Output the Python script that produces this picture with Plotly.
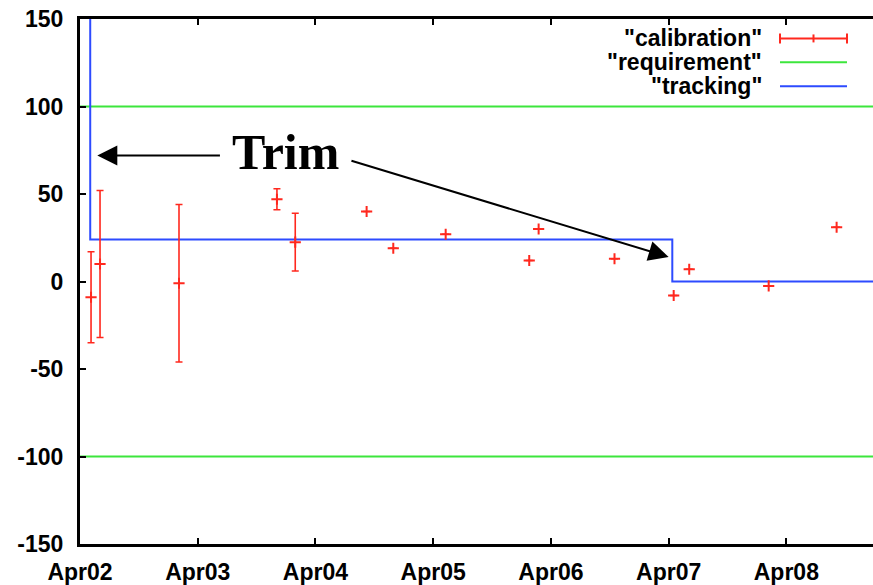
import plotly.graph_objects as go

# ---- data -------------------------------------------------------------
calib_time = [
    "2008-04-02 02:15", "2008-04-02 04:05", "2008-04-02 20:11",
    "2008-04-03 16:09", "2008-04-03 19:53", "2008-04-04 10:26",
    "2008-04-04 15:52", "2008-04-05 02:33", "2008-04-05 19:35",
    "2008-04-05 21:30", "2008-04-06 12:58", "2008-04-07 01:02",
    "2008-04-07 04:12", "2008-04-07 20:24", "2008-04-08 10:15",
]
calib_value = [-9, 10, -1, 47, 22.5, 40, 19, 27, 12, 30, 13, -8, 7, -2.5, 31]
calib_error = [26, 42, 45, 6, 16.5, 0, 0, 0, 0, 0, 0, 0, 0, 0, 0]

track_time = ["2008-04-02 02:05", "2008-04-02 02:05", "2008-04-07 00:45", "2008-04-08 17:40"]
track_value = [260, 24, 0, 0]

req_level = [100, -100]

x_start, x_end = "2008-04-02 00:00", "2008-04-08 17:40"
y_ticks = [-150, -100, -50, 0, 50, 100, 150]
legend_names = ['"calibration"', '"requirement"', '"tracking"']

RED = "rgb(255,40,30)"
GREEN = "rgb(60,230,60)"
BLUE = "rgb(45,75,255)"

W, H = 873, 585
ML, MR, MT, MB = 80, 0, 19, 39
PW, PH = W - ML - MR, H - MT - MB


def px(xp):
    return (xp - ML) / PW


def py(yp):
    return (H - MB - yp) / PH


fig = go.Figure()

# requirement band edges
req_x, req_y = [], []
for lvl in req_level:
    req_x += [x_start, x_end, None]
    req_y += [lvl, lvl, None]
fig.add_trace(go.Scatter(x=req_x, y=req_y, mode="lines",
                         line=dict(color=GREEN, width=2), name=legend_names[1],
                         showlegend=False))

# tracking step
fig.add_trace(go.Scatter(x=track_time, y=track_value, mode="lines",
                         line=dict(color=BLUE, width=2, shape="hv"),
                         name=legend_names[2], showlegend=False, cliponaxis=True))

# calibration points with error bars
fig.add_trace(go.Scatter(
    x=calib_time, y=calib_value, mode="markers", name=legend_names[0],
    marker=dict(symbol="cross-thin", size=8, line=dict(color=RED, width=2), color=RED),
    error_y=dict(type="data", array=calib_error, visible=True,
                 color=RED, thickness=1.6, width=3.5),
    showlegend=False, cliponaxis=False))

font_tick = dict(family="Liberation Sans", size=23, color="black", weight="bold")

fig.update_layout(
    width=W, height=H,
    margin=dict(l=ML, r=MR, t=MT, b=MB),
    paper_bgcolor="white", plot_bgcolor="white",
    showlegend=False,
    xaxis=dict(range=[x_start, x_end], type="date",
               tick0="2008-04-02", dtick=86400000, tickformat="%b%d",
               ticks="inside", ticklen=6, tickwidth=2, tickcolor="black",
               showline=True, linecolor="black", linewidth=3, mirror="ticks",
               showgrid=False, zeroline=False, tickfont=font_tick,
               ticklabelstandoff=5),
    yaxis=dict(range=[-150, 150], tickvals=y_ticks,
               ticktext=[str(v) for v in y_ticks],
               ticks="inside", ticklen=6, tickwidth=2, tickcolor="black",
               showline=True, linecolor="black", linewidth=3, mirror=False,
               showgrid=False, zeroline=False, tickfont=font_tick,
               ticklabelstandoff=9),
)

# "Trim" label with its two arrows
fig.add_annotation(x="2008-04-03 17:58", y=74, text="Trim", showarrow=False,
                   font=dict(family="Liberation Serif", size=50, color="black",
                             weight="bold"),
                   xanchor="center", yanchor="middle")
fig.add_annotation(x="2008-04-02 03:32", y=72, ax="2008-04-03 04:50", ay=72,
                   axref="x", ayref="y", text="", showarrow=True,
                   arrowhead=2, arrowsize=2, arrowwidth=2, arrowcolor="black",
                   standoff=0)
fig.add_annotation(x="2008-04-07 00:00", y=14, ax="2008-04-04 07:02", ay=69.3,
                   axref="x", ayref="y", text="", showarrow=True,
                   arrowhead=2, arrowsize=2, arrowwidth=2, arrowcolor="black",
                   standoff=0)

# key, right-aligned text with sample on the right
rows_y = [38.5, 62.5, 86.5]
text_right = 764
s0, s1 = 780, 847
legend_font = dict(family="Liberation Sans", size=23, color="black", weight="bold")
for name, ry in zip(legend_names, rows_y):
    fig.add_annotation(xref="paper", yref="paper", x=px(text_right), y=py(ry),
                       text=name, showarrow=False, xanchor="right",
                       yanchor="middle", font=legend_font)

line_colors = [RED, GREEN, BLUE]
for col, ry in zip(line_colors, rows_y):
    fig.add_shape(type="line", xref="paper", yref="paper",
                  x0=px(s0), x1=px(s1), y0=py(ry), y1=py(ry),
                  line=dict(color=col, width=2))
# error-bar style caps on the calibration sample
for cx, half in [(s0, 5), (s1, 5), ((s0 + s1) / 2, 4)]:
    fig.add_shape(type="line", xref="paper", yref="paper",
                  x0=px(cx), x1=px(cx), y0=py(rows_y[0] - half), y1=py(rows_y[0] + half),
                  line=dict(color=RED, width=2))

fig.write_html("out.html")
